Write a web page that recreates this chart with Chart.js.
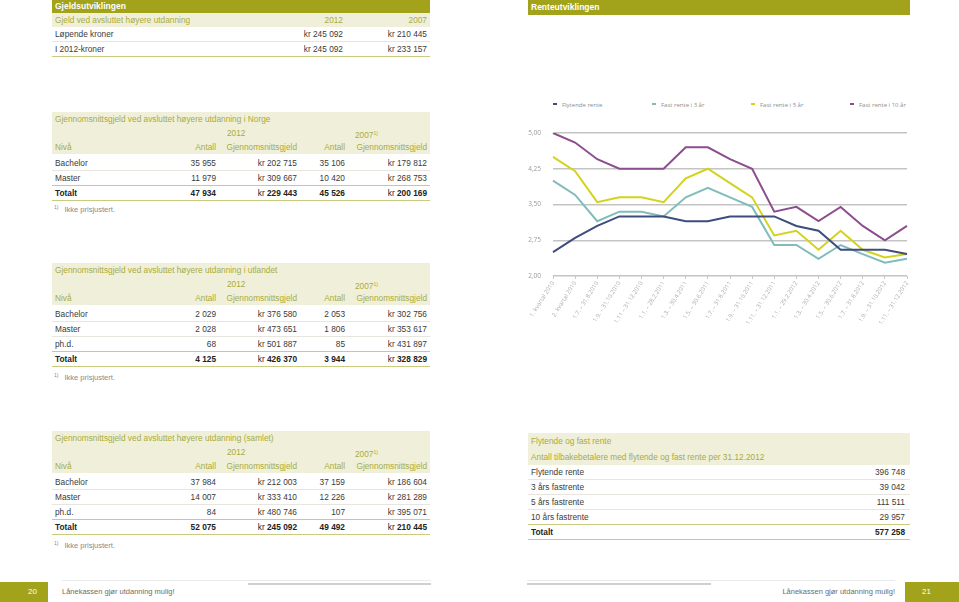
<!DOCTYPE html>
<html>
<head>
<meta charset="utf-8">
<script src="https://cdn.jsdelivr.net/npm/chart.js@4.4.1/dist/chart.umd.min.js"></script>
<style>
  body { margin: 0; width: 959px; height: 602px; position: relative; overflow: hidden; background: #fff;
         font-family: "Liberation Sans", Arial, sans-serif; font-size: 8.3px; color: #3a3a3a; }
  .bar { position: absolute; background: #a3a21b; color: #fff; font-weight: bold; font-size: 8.5px; }
  .tbl { position: absolute; left: 52px; width: 378px; }
  .row { position: relative; height: 14px; line-height: 14px; border-bottom: 1px solid #e6e6de; }
  .row span { position: absolute; white-space: nowrap; }
  .hd { background: #f0f0da; color: #a9ab3b; border-bottom: none; }
  .gap { margin-bottom: 2px; }
  .pre { border-bottom: 1px solid #c9cc7e; }
  .tot { font-weight: bold; color: #222; border-bottom: 1px solid #c9cc7e; }
  .tot .kr { font-weight: normal; }
  .c0 { left: 3px; } .c1 { right: 214px; } .c2 { right: 133px; } .c3 { right: 85px; } .c4 { right: 3px; }
  .y1 { left: 175px; } .y2 { left: 303px; }
  sup { font-size: 5px; vertical-align: 3px; }
  .note { position: absolute; left: 54px; font-size: 7.5px; color: #8a8a8a; }
  .note sup { margin-right: 6px; }
  #legend { position: absolute; top: 101px; left: 0; font-family: "Open Sans", sans-serif; font-size: 6px; color: #8d8d8d; }
  #legend div { position: absolute; white-space: nowrap; line-height: 9px; }
  #legend i { display: inline-block; width: 4px; height: 2px; vertical-align: 2px; margin-right: 5px; }
  .foot { position: absolute; font-size: 7.5px; color: #6d6d6d; top: 587px; }
  .pg { position: absolute; top: 582px; height: 20px; background: #a3a21b; color: #fff; font-size: 8px; line-height: 20px; }
  .ln { position: absolute; background: #ebebeb; height: 1px; top: 580px; }
  .gb { position: absolute; background: #d0d0d0; height: 2px; top: 583px; }
</style>
</head>
<body>

<div class="bar" style="left:52px;top:0;width:378px;height:13px;line-height:13px;"><span style="margin-left:3px">Gjeldsutviklingen</span></div>
<div class="bar" style="left:528px;top:0;width:382px;height:15px;line-height:15px;"><span style="margin-left:3px">Renteutviklingen</span></div>

<div class="tbl" style="top:13px">
  <div class="row hd"><span class="c0">Gjeld ved avsluttet høyere utdanning</span><span style="right:87px">2012</span><span class="c4">2007</span></div>
  <div class="row"><span class="c0">Løpende kroner</span><span style="right:87px">kr 245 092</span><span class="c4">kr 210 445</span></div>
  <div class="row pre"><span class="c0">I 2012-kroner</span><span style="right:87px">kr 245 092</span><span class="c4">kr 233 157</span></div>
</div>

<div class="tbl" style="top:112px">
  <div class="row hd"><span class="c0">Gjennomsnittsgjeld ved avsluttet høyere utdanning i Norge</span></div>
  <div class="row hd"><span class="y1">2012</span><span class="y2">2007<sup>1)</sup></span></div>
  <div class="row hd gap"><span class="c0">Nivå</span><span class="c1">Antall</span><span class="c2">Gjennomsnittsgjeld</span><span class="c3">Antall</span><span class="c4">Gjennomsnittsgjeld</span></div>
  <div class="row"><span class="c0">Bachelor</span><span class="c1">35 955</span><span class="c2">kr 202 715</span><span class="c3">35 106</span><span class="c4">kr 179 812</span></div>
  <div class="row pre"><span class="c0">Master</span><span class="c1">11 979</span><span class="c2">kr 309 667</span><span class="c3">10 420</span><span class="c4">kr 268 753</span></div>
  <div class="row tot"><span class="c0">Totalt</span><span class="c1">47 934</span><span class="c2"><span class="kr" style="position:static">kr </span>229 443</span><span class="c3">45 526</span><span class="c4"><span class="kr" style="position:static">kr </span>200 169</span></div>
</div>
<div class="note" style="top:204px"><sup>1)</sup>Ikke prisjustert.</div>

<div class="tbl" style="top:263px">
  <div class="row hd"><span class="c0">Gjennomsnittsgjeld ved avsluttet høyere utdanning i utlandet</span></div>
  <div class="row hd"><span class="y1">2012</span><span class="y2">2007<sup>1)</sup></span></div>
  <div class="row hd gap"><span class="c0">Nivå</span><span class="c1">Antall</span><span class="c2">Gjennomsnittsgjeld</span><span class="c3">Antall</span><span class="c4">Gjennomsnittsgjeld</span></div>
  <div class="row"><span class="c0">Bachelor</span><span class="c1">2 029</span><span class="c2">kr 376 580</span><span class="c3">2 053</span><span class="c4">kr 302 756</span></div>
  <div class="row"><span class="c0">Master</span><span class="c1">2 028</span><span class="c2">kr 473 651</span><span class="c3">1 806</span><span class="c4">kr 353 617</span></div>
  <div class="row pre"><span class="c0">ph.d.</span><span class="c1">68</span><span class="c2">kr 501 887</span><span class="c3">85</span><span class="c4">kr 431 897</span></div>
  <div class="row tot"><span class="c0">Totalt</span><span class="c1">4 125</span><span class="c2"><span class="kr" style="position:static">kr </span>426 370</span><span class="c3">3 944</span><span class="c4"><span class="kr" style="position:static">kr </span>328 829</span></div>
</div>
<div class="note" style="top:372px"><sup>1)</sup>Ikke prisjustert.</div>

<div class="tbl" style="top:431px">
  <div class="row hd"><span class="c0">Gjennomsnittsgjeld ved avsluttet høyere utdanning (samlet)</span></div>
  <div class="row hd"><span class="y1">2012</span><span class="y2">2007<sup>1)</sup></span></div>
  <div class="row hd gap"><span class="c0">Nivå</span><span class="c1">Antall</span><span class="c2">Gjennomsnittsgjeld</span><span class="c3">Antall</span><span class="c4">Gjennomsnittsgjeld</span></div>
  <div class="row"><span class="c0">Bachelor</span><span class="c1">37 984</span><span class="c2">kr 212 003</span><span class="c3">37 159</span><span class="c4">kr 186 604</span></div>
  <div class="row"><span class="c0">Master</span><span class="c1">14 007</span><span class="c2">kr 333 410</span><span class="c3">12 226</span><span class="c4">kr 281 289</span></div>
  <div class="row pre"><span class="c0">ph.d.</span><span class="c1">84</span><span class="c2">kr 480 746</span><span class="c3">107</span><span class="c4">kr 395 071</span></div>
  <div class="row tot"><span class="c0">Totalt</span><span class="c1">52 075</span><span class="c2"><span class="kr" style="position:static">kr </span>245 092</span><span class="c3">49 492</span><span class="c4"><span class="kr" style="position:static">kr </span>210 445</span></div>
</div>
<div class="note" style="top:540px"><sup>1)</sup>Ikke prisjustert.</div>

<div class="tbl" style="top:433px;left:528px;width:382px">
  <div class="row hd" style="height:16px;line-height:16px"><span class="c0">Flytende og fast rente</span></div>
  <div class="row hd" style="height:16px;line-height:16px"><span class="c0">Antall tilbakebetalere med flytende og fast rente per 31.12.2012</span></div>
  <div class="row"><span class="c0">Flytende rente</span><span class="c4" style="right:5px">396 748</span></div>
  <div class="row"><span class="c0">3 års fastrente</span><span class="c4" style="right:5px">39 042</span></div>
  <div class="row"><span class="c0">5 års fastrente</span><span class="c4" style="right:5px">111 511</span></div>
  <div class="row pre"><span class="c0">10 års fastrente</span><span class="c4" style="right:5px">29 957</span></div>
  <div class="row tot"><span class="c0">Totalt</span><span class="c4" style="right:5px">577 258</span></div>
</div>

<div id="legend"></div>
<canvas id="chart" width="400" height="230" style="position:absolute;left:518px;top:115px;"></canvas>

<div class="pg" style="left:0;width:48px;"><span style="margin-left:28px">20</span></div>
<div class="foot" style="left:62px">Lånekassen gjør utdanning mulig!</div>
<div class="ln" style="left:62px;width:369px"></div>
<div class="gb" style="left:248px;width:183px"></div>
<div class="ln" style="left:527px;width:368px"></div>
<div class="gb" style="left:527px;width:184px"></div>
<div class="foot" style="right:64px">Lånekassen gjør utdanning mulig!</div>
<div class="pg" style="left:905px;width:54px;"><span style="margin-left:17px">21</span></div>

<script>
const labels = [
  '1. kvartal 2010', '2. kvartal 2010', '1.7. – 31.8.2010', '1.9. – 31.10.2010',
  '1.11 – 31.12.2010', '1.1. – 28.2.2011', '1.3. – 30.4.2011', '1.5. – 30.6.2011',
  '1.7. – 31.8.2011', '1.9. – 31.10.2011', '1.11. – 31.12.2011', '1.1. – 29.2.2012',
  '1.3. – 30.4.2012', '1.5. – 30.6.2012', '1.7. – 31.8.2012', '1.9. – 31.10.2012',
  '1.11. – 31.12.2012'
];
const flytende = [2.50, 2.80, 3.05, 3.25, 3.25, 3.25, 3.15, 3.15, 3.25, 3.25, 3.25, 3.05, 2.95, 2.55, 2.55, 2.55, 2.46];
const fast3 = [4.00, 3.70, 3.15, 3.35, 3.35, 3.25, 3.65, 3.85, 3.65, 3.45, 2.65, 2.65, 2.36, 2.65, 2.46, 2.28, 2.36];
const fast5 = [4.50, 4.20, 3.55, 3.65, 3.65, 3.55, 4.05, 4.25, 3.95, 3.65, 2.85, 2.95, 2.55, 2.95, 2.55, 2.39, 2.46];
const fast10 = [5.00, 4.80, 4.45, 4.25, 4.25, 4.25, 4.70, 4.70, 4.45, 4.25, 3.35, 3.45, 3.15, 3.45, 3.05, 2.75, 3.05];
const seriesNames = ['Flytende rente', 'Fast rente i 3 år', 'Fast rente i 5 år', 'Fast rente i 10 år'];
const seriesColors = ['#3e4c7e', '#7fbdbb', '#d3d31b', '#8b4d8d'];
const yTicks = [2.00, 2.75, 3.50, 4.25, 5.00];

// legend is plain html, placed like in the print layout
const legendX = [553, 652, 751, 850];
const legend = document.getElementById('legend');
seriesNames.forEach((name, i) => {
  const item = document.createElement('div');
  item.style.left = legendX[i] + 'px';
  item.innerHTML = '<i style="background:' + seriesColors[i] + '"></i>' + name;
  legend.appendChild(item);
});

const series = [flytende, fast3, fast5, fast10];

new Chart(document.getElementById('chart'), {
  type: 'line',
  data: {
    labels: labels,
    datasets: series.map((data, i) => ({
      label: seriesNames[i],
      data: data,
      borderColor: seriesColors[i],
      backgroundColor: seriesColors[i],
      borderWidth: 2,
      pointRadius: 0,
      tension: 0,
      fill: false,
    })),
  },
  options: {
    responsive: false,
    animation: false,
    layout: { padding: { top: 18, right: 11, left: 0, bottom: 0 } },
    plugins: {
      legend: { display: false },
      tooltip: { enabled: false },
    },
    scales: {
      x: {
        afterFit: (scale) => { scale.height = 69; },
        border: { display: false },
        grid: { drawOnChartArea: false, drawTicks: true, tickLength: 3, color: '#c8c8c8' },
        ticks: {
          autoSkip: false,
          minRotation: 58,
          maxRotation: 58,
          padding: 1,
          color: '#adadad',
          font: { family: 'Open Sans', size: 6 },
        },
      },
      y: {
        min: 2,
        max: 5,
        afterFit: (scale) => { scale.width = 35; },
        afterBuildTicks: (scale) => { scale.ticks = yTicks.map((v) => ({ value: v })); },
        border: { display: false },
        grid: { color: '#c4c4c4', lineWidth: 1.5, drawTicks: false },
        ticks: {
          padding: 12,
          color: '#9a9a9a',
          font: { family: 'Open Sans', size: 6.5 },
          callback: (v) => v.toFixed(2).replace('.', ','),
        },
      },
    },
  },
});
</script>
</body>
</html>
